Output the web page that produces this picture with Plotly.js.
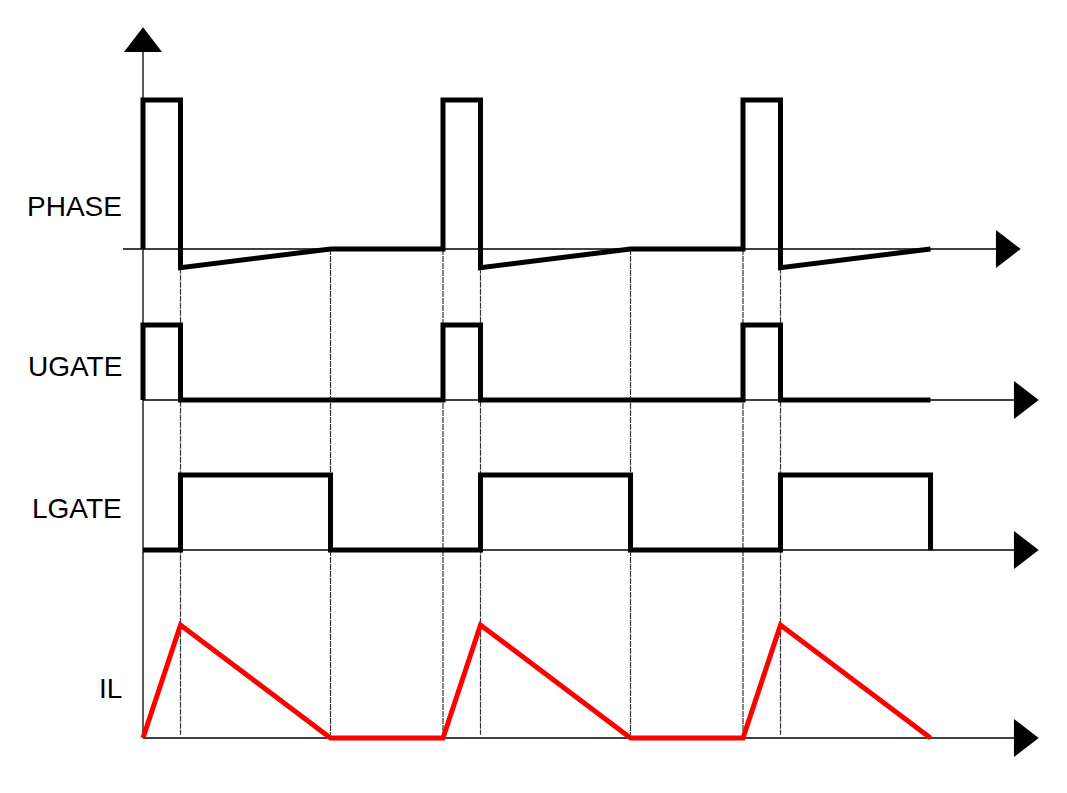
<!DOCTYPE html>
<html>
<head>
<meta charset="utf-8">
<script src="https://cdn.plot.ly/plotly-3.0.1.min.js"></script>
<style>
  html, body { margin: 0; padding: 0; background: #fff; }
  #chart { width: 1067px; height: 793px; }
</style>
</head>
<body>
<div id="chart"></div>
<script>
"use strict"
// waveforms of a buck converter in DCM, time in arbitrary units (period = 8)
var phaseT = [0, 0, 1, 1, 5, 8, 8, 9, 9, 13, 16, 16, 17, 17, 21];
var phaseV = [0, 12, 12, -1.5, 0, 0, 12, 12, -1.5, 0, 0, 12, 12, -1.5, 0];

var ugateT = [0, 0, 1, 1, 8, 8, 9, 9, 16, 16, 17, 17, 21];
var ugateV = [0, 5, 5, 0, 0, 5, 5, 0, 0, 5, 5, 0, 0];

var lgateT = [0, 1, 1, 5, 5, 8, 9, 9, 13, 13, 16, 17, 17, 21, 21];
var lgateV = [0, 0, 5, 5, 0, 0, 0, 5, 5, 0, 0, 0, 5, 5, 0];

var ilT = [0, 1, 5, 8, 9, 13, 16, 17, 21];
var ilV = [0, 3, 0, 0, 3, 0, 0, 3, 0];

var guideT = [1, 5, 8, 9, 13, 16, 17];
var labels = ['PHASE', 'UGATE', 'LGATE', 'IL'];

// page geometry
var W = 1067, H = 793;
var x0px = 143, pxPerT = 37.5;
function tx(px) { return (px - x0px) / pxPerT; }
function py(p) { return 1 - p / H; }
function yRange(basePx, pxPerUnit) {
    return [-(H - basePx) / pxPerUnit, basePx / pxPerUnit];
}

var rPhase = yRange(249, 149 / 12);
var rUgate = yRange(400, 15);
var rLgate = yRange(550, 15);
var rIl = yRange(738, 113 / 3);

function toPaper(v, r) { return (v - r[0]) / (r[1] - r[0]); }

var black = '#000000';
var red = '#ff0000';
var arrowSize = 33, tipOff = 17.8;

var data = [
    { x: phaseT, y: phaseV, yaxis: 'y', mode: 'lines', line: { color: black, width: 5 } },
    { x: ugateT, y: ugateV, yaxis: 'y2', mode: 'lines', line: { color: black, width: 5 } },
    { x: lgateT, y: lgateV, yaxis: 'y3', mode: 'lines', line: { color: black, width: 5 } },
    { x: ilT, y: ilV, yaxis: 'y4', mode: 'lines', line: { color: red, width: 5 } }
];

// arrow heads
var arrowAxes = ['y', 'y2', 'y3', 'y4'];
var arrowTips = [1022, 1040, 1040, 1040];
for (var i = 0; i < arrowAxes.length; i++) {
    data.push({
        x: [tx(arrowTips[i] - tipOff)], y: [0], yaxis: arrowAxes[i],
        mode: 'markers', hoverinfo: 'skip',
        marker: { symbol: 'triangle-right', size: arrowSize, color: black, line: { width: 0 } }
    });
}
data.push({
    x: [0], y: [(249 - (26 + tipOff)) / (149 / 12)], yaxis: 'y',
    mode: 'markers', hoverinfo: 'skip',
    marker: { symbol: 'triangle-up', size: arrowSize, color: black, line: { width: 0 } }
});

var shapes = [];
// baselines
shapes.push({ type: 'line', xref: 'x', yref: 'y', x0: tx(123), x1: tx(1005), y0: 0, y1: 0, line: { color: black, width: 1.3 }, layer: 'below' });
['y2', 'y3', 'y4'].forEach(function (ax) {
    shapes.push({ type: 'line', xref: 'x', yref: ax, x0: 0, x1: tx(1022), y0: 0, y1: 0, line: { color: black, width: 1.3 }, layer: 'below' });
});
// vertical axis
shapes.push({ type: 'line', xref: 'x', yref: 'paper', x0: 0, x1: 0, y0: py(738), y1: py(45), line: { color: black, width: 1.3 }, layer: 'below' });

// dashed guides from the PHASE trace down to the IL baseline
guideT.forEach(function (t) {
    var lowest = 0;
    for (var k = 0; k < phaseT.length; k++) {
        if (phaseT[k] === t && phaseV[k] < lowest) lowest = phaseV[k];
    }
    shapes.push({
        type: 'line', xref: 'x', yref: 'paper', x0: t, x1: t,
        y0: toPaper(lowest, rPhase), y1: toPaper(0, rIl) + 0.004,
        line: { color: '#333333', width: 1.2, dash: '6px,1px' }, layer: 'below'
    });
});

var labelY = [206, 367, 508, 688];
var annotations = labels.map(function (txt, i) {
    return {
        text: txt, xref: 'paper', yref: 'paper', x: 124 / W, y: py(labelY[i]),
        xanchor: 'right', yanchor: 'middle', showarrow: false,
        font: { family: 'Liberation Sans, Arial, sans-serif', size: 28, color: black }
    };
});

function hiddenY(r, over) {
    var a = { range: r, visible: false, fixedrange: true, domain: [0, 1] };
    if (over) a.overlaying = 'y';
    return a;
}

var layout = {
    width: W,
    height: H,
    margin: { l: 0, r: 0, t: 0, b: 0 },
    paper_bgcolor: '#ffffff',
    plot_bgcolor: '#ffffff',
    showlegend: false,
    xaxis: { range: [tx(0), tx(W)], visible: false, fixedrange: true },
    yaxis: hiddenY(rPhase, false),
    yaxis2: hiddenY(rUgate, true),
    yaxis3: hiddenY(rLgate, true),
    yaxis4: hiddenY(rIl, true),
    shapes: shapes,
    annotations: annotations
};

Plotly.newPlot('chart', data, layout, { displayModeBar: false, staticPlot: true });
</script>
</body>
</html>
